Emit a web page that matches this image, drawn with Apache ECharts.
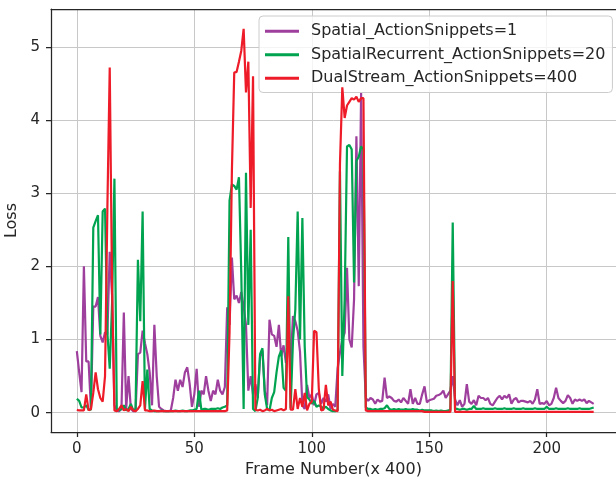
<!DOCTYPE html>
<html>
<head>
<meta charset="utf-8">
<script src="https://cdn.jsdelivr.net/npm/echarts@6/dist/echarts.min.js"></script>
<style>html,body{margin:0;padding:0;background:#fff}#c{width:616px;height:484px}</style>
</head>
<body>
<div id="c"></div>
<script>
const seriesNames = ['Spatial_ActionSnippets=1', 'SpatialRecurrent_ActionSnippets=20', 'DualStream_ActionSnippets=400'];
const xTicks = [0, 50, 100, 150, 200];
const yTicks = [0, 1, 2, 3, 4, 5];

const spatial = [
0.84,0.55,0.28,2.0,0.7,0.7,0.05,1.45,1.45,1.58,
1.05,0.96,1.1,1.07,2.2,1.6,0.1,0.03,0.02,0.05,
1.37,0.05,0.5,0.05,0.02,0.02,0.8,0.82,1.12,0.95,
0.8,0.55,0.1,1.2,0.5,0.08,0.05,0.03,0.02,0.02,
0.03,0.2,0.45,0.3,0.45,0.35,0.55,0.62,0.4,0.08,
0.25,0.6,0.08,0.3,0.25,0.5,0.3,0.16,0.3,0.25,
0.45,0.3,0.25,0.35,1.44,1.2,2.12,1.55,1.6,1.5,
1.65,1.45,1.2,0.3,0.5,0.25,0.39,0.2,0.77,0.85,
0.3,0.1,1.27,1.07,1.05,0.9,1.2,0.77,0.92,0.68,
1.0,0.66,1.32,1.25,1.12,0.83,0.1,0.05,0.38,0.2,
0.25,0.1,0.25,0.27,0.12,0.2,0.15,0.25,0.05,0.12,
0.08,0.6,0.82,1.0,1.09,1.98,1.0,0.89,1.55,3.78,
1.73,4.37,0.9,0.2,0.16,0.2,0.18,0.12,0.18,0.15,
0.16,0.48,0.2,0.22,0.2,0.16,0.15,0.18,0.14,0.2,
0.16,0.12,0.32,0.12,0.2,0.12,0.12,0.25,0.36,0.14,
0.17,0.18,0.19,0.23,0.24,0.26,0.3,0.2,0.25,0.3,
0.5,0.18,0.1,0.17,0.08,0.12,0.39,0.15,0.12,0.17,
0.1,0.23,0.2,0.2,0.17,0.2,0.12,0.1,0.15,0.2,
0.23,0.18,0.23,0.2,0.25,0.12,0.18,0.2,0.14,0.16,
0.16,0.15,0.14,0.16,0.12,0.18,0.32,0.12,0.13,0.12,
0.16,0.1,0.12,0.2,0.34,0.2,0.16,0.13,0.16,0.24,
0.2,0.12,0.18,0.16,0.18,0.16,0.18,0.13,0.16,0.14,0.12
];

const spatialRecurrent = [
0.19,0.16,0.07,0.07,0.1,0.04,0.04,2.53,2.62,2.7,
1.07,2.75,2.79,1.09,0.6,1.5,3.2,0.05,0.03,0.05,
0.1,0.03,0.05,0.12,0.03,0.05,2.09,1.25,2.75,0.05,
0.59,0.05,0.03,0.02,0.02,0.02,0.03,0.02,0.02,0.02,
0.02,0.02,0.03,0.02,0.02,0.03,0.02,0.02,0.03,0.03,
0.04,0.05,0.3,0.04,0.05,0.05,0.04,0.05,0.05,0.05,
0.06,0.05,0.07,0.08,0.1,2.9,3.12,3.1,3.05,3.22,
1.9,0.05,3.28,1.2,2.5,0.05,0.02,0.2,0.8,0.88,
0.25,0.05,0.03,0.2,0.28,0.55,0.77,0.85,0.34,0.3,
2.4,0.06,0.98,1.41,2.75,1.0,2.66,0.9,0.21,0.18,
0.12,0.16,0.08,0.1,0.08,0.06,0.08,0.05,0.03,0.02,
0.02,0.03,3.3,0.5,1.55,3.64,3.66,3.6,1.78,3.44,
3.5,3.64,3.6,0.07,0.05,0.05,0.04,0.05,0.04,0.05,
0.05,0.06,0.1,0.05,0.04,0.05,0.04,0.05,0.04,0.04,
0.05,0.04,0.04,0.05,0.04,0.04,0.03,0.04,0.03,0.03,
0.03,0.03,0.02,0.03,0.02,0.03,0.02,0.02,0.03,0.03,
2.6,0.05,0.05,0.04,0.05,0.05,0.04,0.05,0.05,0.09,
0.05,0.05,0.05,0.06,0.05,0.05,0.05,0.05,0.06,0.05,
0.05,0.05,0.06,0.05,0.05,0.05,0.06,0.05,0.05,0.05,
0.06,0.05,0.05,0.05,0.05,0.06,0.05,0.05,0.05,0.05,
0.08,0.05,0.05,0.05,0.06,0.05,0.05,0.05,0.05,0.06,
0.05,0.05,0.05,0.05,0.06,0.05,0.05,0.05,0.05,0.06,0.07
];

const dualStream = [
0.04,0.03,0.03,0.03,0.25,0.03,0.05,0.27,0.55,0.32,
0.2,0.15,0.5,2.8,4.72,1.7,0.03,0.02,0.05,0.1,
0.03,0.05,0.02,0.08,0.03,0.02,0.05,0.1,0.43,0.03,
0.03,0.02,0.02,0.03,0.02,0.02,0.02,0.02,0.02,0.02,
0.02,0.02,0.02,0.02,0.02,0.02,0.02,0.02,0.02,0.02,
0.02,0.02,0.02,0.02,0.02,0.02,0.02,0.02,0.02,0.02,
0.02,0.02,0.02,0.02,0.03,1.1,3.3,4.65,4.66,4.8,
4.95,5.25,4.38,4.8,2.8,4.6,0.04,0.03,0.04,0.02,
0.03,0.05,0.03,0.04,0.02,0.03,0.04,0.05,0.03,0.05,
1.59,0.04,0.04,0.32,0.05,0.2,0.08,0.27,0.03,0.12,
0.15,1.12,1.1,0.32,0.03,0.04,0.38,0.1,0.15,0.04,
0.03,0.02,3.4,4.45,4.03,4.2,4.25,4.3,4.28,4.32,
4.25,4.3,4.3,0.03,0.02,0.02,0.02,0.02,0.02,0.02,
0.02,0.02,0.02,0.02,0.02,0.02,0.02,0.02,0.02,0.02,
0.02,0.02,0.02,0.02,0.02,0.02,0.02,0.02,0.01,0.01,
0.01,0.01,0.01,0.01,0.01,0.01,0.01,0.01,0.01,0.01,
1.8,0.01,0.01,0.01,0.01,0.01,0.01,0.01,0.01,0.01,
0.01,0.01,0.01,0.01,0.01,0.01,0.01,0.01,0.01,0.01,
0.01,0.01,0.01,0.01,0.01,0.01,0.01,0.01,0.01,0.01,
0.01,0.01,0.01,0.01,0.01,0.01,0.01,0.01,0.01,0.01,
0.01,0.01,0.01,0.01,0.01,0.01,0.01,0.01,0.01,0.01,
0.01,0.01,0.01,0.01,0.01,0.01,0.01,0.01,0.01,0.01,0.01
];

const colors = ['#9e3f9d', '#00a34f', '#ee1c29'];
const font = 'DejaVu Sans';
const axisColor = '#262626';
const gridColor = '#c8c8c8';

const toPairs = arr => arr.map((v, i) => [i, v]);

const chart = echarts.init(document.getElementById('c'), null, {renderer: 'canvas'});
chart.setOption({
  animation: false,
  backgroundColor: '#ffffff',
  grid: {left: 51, right: 0, top: 9, bottom: 52, containLabel: false, outerBoundsMode: 'none'},
  legend: {
    orient: 'vertical',
    left: 259,
    top: 16,
    padding: [6, 7, 5, 6],
    itemWidth: 34,
    itemHeight: 3,
    itemGap: 5,
    icon: 'rect',
    borderColor: '#cccccc',
    borderWidth: 1,
    borderRadius: 4,
    backgroundColor: 'rgba(255,255,255,0.8)',
    textStyle: {fontFamily: font, fontSize: 16, color: axisColor, lineHeight: 18.5, padding: [0, 0, 0, 7]},
    data: seriesNames
  },
  xAxis: [{
    type: 'value',
    min: -11,
    max: 229.5,
    position: 'bottom',
    name: 'Frame Number(x 400)',
    nameLocation: 'middle',
    nameGap: 30,
    nameMoveOverlap: false,
    nameTextStyle: {fontFamily: font, fontSize: 16, color: axisColor},
    axisLine: {show: true, onZero: false, lineStyle: {color: axisColor, width: 1.25}},
    axisTick: {show: true, length: 5, inside: false, customValues: xTicks, lineStyle: {color: axisColor, width: 1.25}},
    axisLabel: {customValues: xTicks, fontFamily: font, fontSize: 15, color: axisColor, margin: 10},
    splitLine: {show: true, lineStyle: {color: gridColor, width: 1}}
  }, {
    type: 'value',
    min: -11,
    max: 229.5,
    position: 'top',
    axisLine: {show: true, onZero: false, lineStyle: {color: axisColor, width: 1.25}},
    axisTick: {show: false},
    axisLabel: {show: false},
    splitLine: {show: false}
  }],
  yAxis: {
    type: 'value',
    min: -0.265,
    max: 5.52,
    name: 'Loss',
    nameLocation: 'middle',
    nameGap: 31,
    nameMoveOverlap: false,
    nameTextStyle: {fontFamily: font, fontSize: 16, color: axisColor},
    axisLine: {show: true, onZero: false, lineStyle: {color: axisColor, width: 1.25}},
    axisTick: {show: true, length: 5, inside: false, customValues: yTicks, lineStyle: {color: axisColor, width: 1.25}},
    axisLabel: {customValues: yTicks, fontFamily: font, fontSize: 15, color: axisColor, margin: 11},
    splitLine: {show: true, lineStyle: {color: gridColor, width: 1}}
  },
  series: [
    {name: seriesNames[0], type: 'line', data: toPairs(spatial), showSymbol: false, symbol: 'none',
     lineStyle: {color: colors[0], width: 2.2}, itemStyle: {color: colors[0]}, z: 2},
    {name: seriesNames[1], type: 'line', data: toPairs(spatialRecurrent), showSymbol: false, symbol: 'none',
     lineStyle: {color: colors[1], width: 2.2}, itemStyle: {color: colors[1]}, z: 3},
    {name: seriesNames[2], type: 'line', data: toPairs(dualStream), showSymbol: false, symbol: 'none',
     lineStyle: {color: colors[2], width: 2.2}, itemStyle: {color: colors[2]}, z: 4}
  ]
});
</script>
</body>
</html>
